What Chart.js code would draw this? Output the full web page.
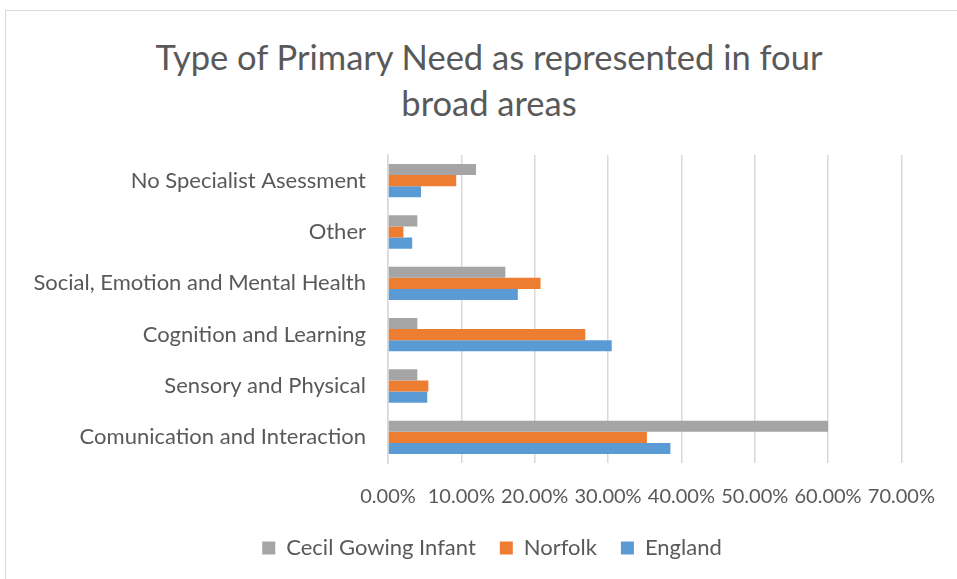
<!DOCTYPE html>
<html>
<head>
<meta charset="utf-8">
<script src="https://cdn.jsdelivr.net/npm/chart.js@4"></script>
<style>
  html, body { margin: 0; padding: 0; background: #fff; overflow: hidden; }
  #frame {
    position: absolute; left: 5px; top: 10px; width: 1000px; height: 600px;
    border-left: 1px solid #d9d9d9; border-top: 1px solid #d9d9d9;
  }
  #chart-title {
    position: absolute; left: 0; top: 34px; width: 978px;
    text-align: center; color: #595959;
    font-family: Lato, 'Open Sans', sans-serif; font-size: 34.5px; line-height: 46px;
  }
  #wrap { position: absolute; left: 0; top: 0; width: 957px; height: 579px; }
</style>
</head>
<body>
<div id="frame"></div>
<div id="chart-title">Type of Primary Need as represented in four<br>broad areas</div>
<div id="wrap"><canvas id="chart-primary-need"></canvas></div>
<script>
// 카테고리 (위에서 아래 순서)
const categories = [
    'No Specialist Asessment',
    'Other',
    'Social, Emotion and Mental Health',
    'Cognition and Learning',
    'Sensory and Physical',
    'Comunication and Interaction'
];

// 값 (%)
const cecilValues   = [12.0, 4.0, 16.0, 4.0, 4.0, 60.0];
const norfolkValues = [9.3, 2.1, 20.8, 26.9, 5.5, 35.3];
const englandValues = [4.5, 3.3, 17.7, 30.5, 5.35, 38.5];

const xTicks = [0, 10, 20, 30, 40, 50, 60, 70];

const textColor = '#595959';
const gridColor = '#d9d9d9';
const fontFamily = "Lato, 'Open Sans', sans-serif";

// 범례를 원본처럼 오른쪽으로 살짝 이동
const legendShift = {
    id: 'legendShift',
    afterLayout: (chart) => {
        if (!chart.legend) return;
        chart.legend.left += 38;
        chart.legend.right += 38;
    }
};

const ctx = document.getElementById('chart-primary-need');

new Chart(ctx, {
    type: 'bar',
    data: {
        labels: categories,
        datasets: [
            { label: 'Cecil Gowing Infant', data: cecilValues,   backgroundColor: '#a5a5a5' },
            { label: 'Norfolk',             data: norfolkValues, backgroundColor: '#ed7d31' },
            { label: 'England',             data: englandValues, backgroundColor: '#5b9bd5' }
        ]
    },
    plugins: [legendShift],
    options: {
        indexAxis: 'y',
        responsive: true,
        maintainAspectRatio: false,
        animation: false,
        datasets: {
            bar: { categoryPercentage: 0.65, barPercentage: 1.0 }
        },
        // 제목은 HTML로 그리므로 위쪽 여백만 확보
        layout: { padding: { left: 0, right: 49, top: 155, bottom: 10 } },
        plugins: {
            title: { display: false },
            legend: {
                position: 'bottom',
                labels: {
                    color: textColor,
                    font: { family: fontFamily, size: 22 },
                    boxWidth: 13,
                    boxHeight: 13,
                    padding: 24
                }
            },
            tooltip: { enabled: false }
        },
        scales: {
            x: {
                min: 0,
                max: 70,
                afterBuildTicks: (scale) => {
                    scale.ticks = xTicks.map(v => ({ value: v }));
                },
                afterFit: (scale) => { scale.height = 50; },
                grid: { color: gridColor, lineWidth: 1.5, drawTicks: false },
                border: { display: false },
                ticks: {
                    color: textColor,
                    font: { family: fontFamily, size: 20 },
                    padding: 22,
                    autoSkip: false,
                    maxRotation: 0,
                    minRotation: 0,
                    callback: (v) => Number(v).toFixed(2) + '%'
                }
            },
            y: {
                afterFit: (scale) => { scale.width = 388; },
                grid: { display: false, drawTicks: false },
                border: { display: true, color: gridColor, width: 1.5 },
                ticks: {
                    color: textColor,
                    font: { family: fontFamily, size: 22 },
                    padding: 22
                }
            }
        }
    }
});
</script>
</body>
</html>
